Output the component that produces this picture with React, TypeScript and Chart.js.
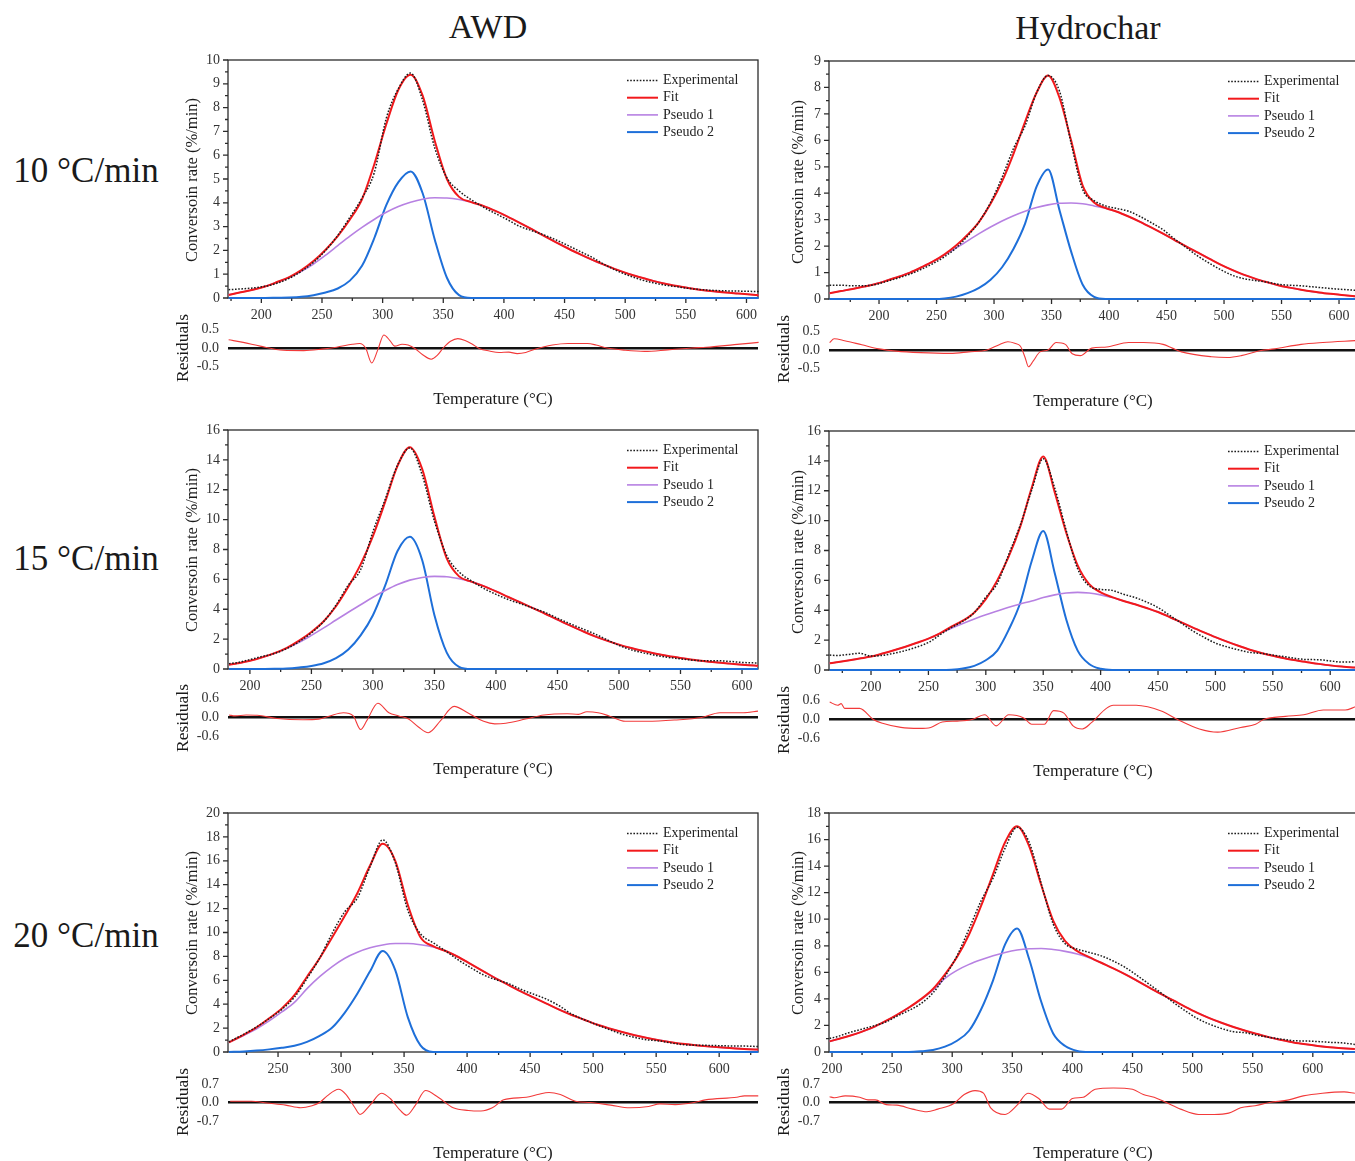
import React, { useEffect, useRef } from 'react';
import { Chart, registerables } from 'chart.js';
Chart.register(...registerables);

const SERIF = "'Liberation Serif', 'Times New Roman', Times, serif";

// ---------------- labels ----------------
const columnTitles = ['AWD', 'Hydrochar'];
const rateLabels = ['10 °C/min', '15 °C/min', '20 °C/min'];
const seriesNames = ['Experimental', 'Fit', 'Pseudo 1', 'Pseudo 2'];
const xAxisTitle = 'Temperature (°C)';
const yAxisTitle = 'Conversoin rate (%/min)';
const resAxisTitle = 'Residuals';

// ---------------- AWD 10 °C/min ----------------
const awd10T = [173,183,193,203,213,223,233,243,253,263,273,283,293,303,313,323,333,343,353,363,373,383,393,403,413,423,433,443,453,463,473,483,493,503,513,523,533,543,553,563,573,583,593,603,610];
const awd10Exp = [0.35,0.38,0.42,0.49,0.62,0.83,1.12,1.5,2.0,2.63,3.39,4.2,5.25,7.55,8.8,9.45,8.3,6.3,5.05,4.5,4.13,3.82,3.55,3.29,3.01,2.83,2.65,2.44,2.2,1.95,1.7,1.4,1.15,0.94,0.77,0.64,0.54,0.47,0.4,0.35,0.32,0.3,0.29,0.28,0.27];
const awd10Fit = [0.13,0.24,0.35,0.48,0.67,0.88,1.17,1.55,2.03,2.6,3.3,4.15,5.6,7.3,8.75,9.38,8.5,6.6,5.0,4.25,4.03,3.87,3.66,3.42,3.16,2.89,2.61,2.34,2.08,1.83,1.6,1.39,1.19,1.01,0.86,0.72,0.6,0.5,0.41,0.34,0.28,0.23,0.19,0.15,0.12];
const awd10P1 = [0.13,0.24,0.35,0.48,0.66,0.86,1.12,1.43,1.8,2.2,2.6,2.97,3.3,3.6,3.84,4.02,4.15,4.21,4.2,4.14,4.03,3.87,3.66,3.42,3.16,2.89,2.61,2.34,2.08,1.83,1.6,1.39,1.19,1.01,0.86,0.72,0.6,0.5,0.41,0.34,0.28,0.23,0.19,0.15,0.12];
const awd10P2 = [0,0,0,0,0.01,0.02,0.05,0.12,0.23,0.4,0.73,1.35,2.5,3.9,4.87,5.32,4.4,2.45,0.85,0.12,0,0,0,0,0,0,0,0,0,0,0,0,0,0,0,0,0,0,0,0,0,0,0,0,0];
const awd10ResT = [173,185,199,218,235,250,262,275,281,286,291,296,301,306,310,316,321,326,333,340,345,350,356,362,368,374,380,388,396,404,411,418,425,440,453,469,476,485,500,516,535,555,567,590,610];
const awd10Res = [0.22,0.15,0.05,-0.06,-0.07,-0.03,0.02,0.1,0.12,0.0,-0.4,-0.05,0.35,0.2,0.05,0.1,0.08,0.0,-0.18,-0.3,-0.2,0.0,0.18,0.25,0.2,0.1,-0.02,-0.08,-0.12,-0.11,-0.15,-0.12,-0.04,0.08,0.12,0.12,0.08,0.0,-0.06,-0.09,-0.05,0.0,0.02,0.09,0.15];

// ---------------- Hydrochar 10 °C/min ----------------
const hyd10T = [157,167,177,187,197,207,217,227,237,247,257,267,277,287,297,307,317,327,337,347,357,367,377,387,397,407,417,427,437,447,457,467,477,487,497,507,517,527,537,547,557,567,577,587,597,607,614];
const hyd10Exp = [0.52,0.52,0.5,0.5,0.55,0.67,0.8,0.94,1.13,1.34,1.6,1.93,2.38,2.92,3.65,4.6,5.7,6.55,7.8,8.45,7.85,5.9,4.15,3.72,3.52,3.42,3.32,3.12,2.88,2.62,2.27,1.95,1.63,1.36,1.11,0.9,0.77,0.7,0.64,0.56,0.52,0.5,0.46,0.42,0.38,0.35,0.33];
const hyd10Fit = [0.22,0.3,0.38,0.47,0.57,0.7,0.84,1.0,1.2,1.42,1.69,2.02,2.43,2.92,3.6,4.45,5.5,6.7,7.8,8.45,7.6,6.0,4.3,3.65,3.44,3.3,3.12,2.92,2.7,2.47,2.23,1.99,1.76,1.53,1.3,1.1,0.92,0.77,0.64,0.52,0.43,0.35,0.28,0.22,0.18,0.13,0.1];
const hyd10P1 = [0.22,0.3,0.38,0.47,0.57,0.7,0.84,1.0,1.2,1.42,1.67,1.93,2.2,2.47,2.72,2.95,3.15,3.32,3.46,3.56,3.62,3.63,3.6,3.52,3.43,3.3,3.12,2.92,2.7,2.47,2.23,1.99,1.76,1.53,1.3,1.1,0.92,0.77,0.64,0.52,0.43,0.35,0.28,0.22,0.18,0.13,0.1];
const hyd10P2 = [0,0,0,0,0,0,0,0,0,0,0.02,0.09,0.22,0.42,0.73,1.2,1.9,2.85,4.25,4.9,3.35,1.8,0.55,0.08,0,0,0,0,0,0,0,0,0,0,0,0,0,0,0,0,0,0,0,0,0,0,0];
const hyd10ResT = [157,161,170,185,200,215,236,262,278,294,305,312,318,323,327,330,334,340,347,354,362,368,375,385,398,417,430,447,455,463,489,503,515,531,544,567,586,614];
const hyd10Res = [0.2,0.3,0.25,0.14,0.03,-0.03,-0.07,-0.09,-0.05,0.0,0.15,0.22,0.18,0.1,-0.2,-0.45,-0.3,-0.05,0.0,0.2,0.15,-0.1,-0.15,0.05,0.08,0.2,0.2,0.15,0.05,-0.05,-0.18,-0.2,-0.15,-0.02,0.03,0.15,0.2,0.25];

// ---------------- AWD 15 °C/min ----------------
const awd15T = [183,190,200,210,220,230,240,250,260,270,280,290,300,310,320,330,340,350,360,370,380,390,400,410,420,430,440,450,460,470,480,490,500,510,520,530,540,550,560,570,580,590,600,610,613];
const awd15Exp = [0.36,0.43,0.63,0.84,1.04,1.37,1.83,2.42,3.18,4.28,5.62,6.65,9.2,11.37,13.65,14.8,13.0,9.9,7.6,6.5,5.9,5.4,5.0,4.65,4.37,4.08,3.78,3.4,3.04,2.7,2.36,1.97,1.58,1.28,1.08,0.91,0.78,0.68,0.59,0.55,0.55,0.51,0.44,0.41,0.41];
const awd15Fit = [0.28,0.38,0.55,0.78,1.06,1.42,1.9,2.48,3.2,4.2,5.5,7.0,8.9,11.2,13.6,14.85,13.4,10.2,7.4,6.2,5.85,5.55,5.2,4.82,4.45,4.08,3.7,3.3,2.92,2.55,2.2,1.9,1.63,1.4,1.2,1.02,0.87,0.74,0.62,0.52,0.43,0.36,0.29,0.23,0.21];
const awd15P1 = [0.28,0.38,0.55,0.78,1.05,1.38,1.78,2.25,2.75,3.28,3.8,4.3,4.8,5.25,5.65,5.95,6.13,6.2,6.18,6.05,5.85,5.55,5.2,4.82,4.45,4.08,3.7,3.3,2.92,2.55,2.2,1.9,1.63,1.4,1.2,1.02,0.87,0.74,0.62,0.52,0.43,0.36,0.29,0.23,0.21];
const awd15P2 = [0,0,0,0,0.01,0.03,0.1,0.2,0.38,0.72,1.3,2.25,3.6,5.6,7.9,8.85,7.3,3.6,1.1,0.15,0,0,0,0,0,0,0,0,0,0,0,0,0,0,0,0,0,0,0,0,0,0,0,0,0];
const awd15ResT = [183,188,197,206,222,243,256,265,276,284,290,295,304,313,321,329,337,345,355,366,377,390,399,408,424,439,458,467,474,483,492,505,523,545,567,582,601,613];
const awd15Res = [0.08,0.05,0.08,0.07,-0.03,-0.07,-0.05,0.05,0.15,0.05,-0.38,-0.1,0.45,0.15,0.05,-0.05,-0.3,-0.48,-0.1,0.35,0.15,-0.12,-0.2,-0.18,-0.05,0.08,0.12,0.1,0.18,0.15,0.05,-0.12,-0.12,-0.08,0.0,0.15,0.15,0.2];

// ---------------- Hydrochar 15 °C/min ----------------
const hyd15T = [164,170,180,190,200,210,220,230,240,250,260,270,280,290,300,310,320,330,340,350,360,370,380,390,400,410,420,430,440,450,460,470,480,490,500,510,520,530,540,550,560,570,580,590,600,610,620,622];
const hyd15Exp = [1.0,0.97,1.04,1.12,0.93,0.98,1.12,1.3,1.54,1.84,2.35,2.84,3.27,3.85,4.87,5.8,7.75,9.7,12.05,14.15,12.18,9.35,6.78,5.63,5.4,5.33,5.07,4.85,4.55,4.18,3.67,3.15,2.63,2.19,1.8,1.55,1.35,1.18,1.11,1.0,0.89,0.77,0.7,0.69,0.61,0.53,0.55,0.56];
const hyd15Fit = [0.45,0.52,0.64,0.77,0.9,1.1,1.32,1.56,1.82,2.1,2.45,2.9,3.3,3.85,4.75,6.0,7.6,9.6,12.2,14.3,11.9,9.2,7.0,5.75,5.2,4.88,4.62,4.4,4.15,3.88,3.55,3.2,2.85,2.52,2.2,1.9,1.62,1.36,1.14,0.95,0.79,0.65,0.52,0.41,0.31,0.23,0.17,0.16];
const hyd15P1 = [0.45,0.52,0.64,0.77,0.9,1.1,1.32,1.56,1.82,2.1,2.45,2.8,3.12,3.42,3.7,3.95,4.2,4.42,4.62,4.85,5.03,5.15,5.2,5.15,5.03,4.85,4.62,4.4,4.15,3.88,3.55,3.2,2.85,2.52,2.2,1.9,1.62,1.36,1.14,0.95,0.79,0.65,0.52,0.41,0.31,0.23,0.17,0.16];
const hyd15P2 = [0,0,0,0,0,0,0,0,0,0,0,0.02,0.1,0.28,0.65,1.3,2.7,4.5,7.3,9.3,6.5,3.4,1.3,0.4,0.08,0,0,0,0,0,0,0,0,0,0,0,0,0,0,0,0,0,0,0,0,0,0,0];
const hyd15ResT = [164,171,174,177,190,202,210,226,242,252,262,275,288,299,309,320,333,340,351,359,368,376,384,392,405,411,431,441,454,467,486,502,522,535,542,561,577,594,613,622];
const hyd15Res = [0.55,0.45,0.5,0.35,0.35,0.0,-0.12,-0.25,-0.28,-0.25,-0.08,-0.05,0.0,0.15,-0.2,0.15,0.05,-0.15,-0.15,0.28,0.2,-0.2,-0.3,-0.1,0.35,0.45,0.45,0.4,0.25,0.0,-0.3,-0.4,-0.25,-0.15,0.0,0.1,0.15,0.3,0.3,0.4];

// ---------------- AWD 20 °C/min ----------------
const awd20T = [211,223,233,243,253,263,273,283,293,303,313,323,333,343,353,363,373,383,393,403,413,423,433,443,453,463,473,483,493,503,513,523,533,543,553,563,573,583,593,603,613,623,631];
const awd20Exp = [0.85,1.5,2.1,2.79,3.57,4.58,6.15,7.85,9.95,11.75,12.9,15.5,17.75,15.85,11.85,9.9,9.15,8.45,7.7,7.05,6.45,6.05,5.72,5.23,4.83,4.42,3.87,3.18,2.7,2.27,1.87,1.49,1.22,1.02,0.92,0.73,0.6,0.57,0.55,0.52,0.5,0.49,0.45];
const awd20Fit = [0.8,1.45,2.07,2.82,3.65,4.75,6.3,7.85,9.6,11.4,13.3,15.6,17.42,16.0,12.3,9.6,8.85,8.45,7.95,7.35,6.75,6.15,5.6,5.05,4.55,4.05,3.55,3.1,2.7,2.3,1.97,1.67,1.4,1.17,0.97,0.8,0.66,0.55,0.45,0.37,0.3,0.24,0.2];
const awd20P1 = [0.8,1.4,1.95,2.6,3.35,4.15,5.3,6.3,7.15,7.85,8.35,8.72,8.96,9.08,9.08,8.98,8.78,8.45,7.95,7.35,6.75,6.15,5.6,5.05,4.55,4.05,3.55,3.1,2.7,2.3,1.97,1.67,1.4,1.17,0.97,0.8,0.66,0.55,0.45,0.37,0.3,0.24,0.2];
const awd20P2 = [0,0.05,0.12,0.22,0.35,0.52,0.85,1.35,2.05,3.3,4.9,6.75,8.45,6.85,2.9,0.55,0,0,0,0,0,0,0,0,0,0,0,0,0,0,0,0,0,0,0,0,0,0,0,0,0,0,0];
const awd20ResT = [212,229,241,256,268,277,283,289,298,304,311,315,323,332,339,347,352,359,367,377,389,401,411,420,429,447,456,465,474,486,498,514,529,544,553,565,580,589,614,620,631];
const awd20Res = [0.05,0.05,-0.02,-0.1,-0.2,-0.12,0.0,0.25,0.5,0.3,-0.2,-0.45,-0.1,0.35,0.15,-0.3,-0.48,-0.1,0.45,0.2,-0.2,-0.3,-0.32,-0.2,0.1,0.2,0.3,0.38,0.3,0.05,0.0,-0.1,-0.2,-0.15,-0.05,-0.08,0.0,0.1,0.2,0.25,0.25];

// ---------------- Hydrochar 20 °C/min ----------------
const hyd20T = [198,204,214,224,234,244,254,264,274,284,294,304,314,324,334,344,354,364,374,384,394,404,414,424,434,444,454,464,474,484,494,504,514,524,534,544,554,564,574,584,594,604,614,624,635];
const hyd20Exp = [1.02,1.15,1.45,1.7,1.95,2.23,2.7,3.13,3.65,4.45,5.7,7.25,9.27,11.38,13.1,15.35,16.92,15.8,12.7,9.65,8.15,7.75,7.5,7.24,6.85,6.37,5.75,5.1,4.43,3.73,3.1,2.52,2.1,1.77,1.53,1.45,1.25,1.1,0.97,0.85,0.83,0.79,0.73,0.69,0.57];
const hyd20Fit = [0.8,0.95,1.2,1.5,1.85,2.3,2.8,3.35,3.98,4.75,5.85,7.15,8.85,11.0,13.4,15.8,17.0,15.5,12.6,9.9,8.35,7.6,7.15,6.72,6.3,5.85,5.35,4.85,4.35,3.88,3.4,2.95,2.55,2.2,1.88,1.6,1.35,1.1,0.9,0.72,0.58,0.46,0.36,0.29,0.22];
const hyd20P1 = [0.8,0.95,1.2,1.5,1.85,2.3,2.8,3.35,3.95,4.65,5.55,6.15,6.6,6.95,7.25,7.5,7.68,7.78,7.8,7.72,7.58,7.38,7.1,6.72,6.3,5.85,5.35,4.85,4.35,3.88,3.4,2.95,2.55,2.2,1.88,1.6,1.35,1.1,0.9,0.72,0.58,0.46,0.36,0.29,0.22];
const hyd20P2 = [0,0,0,0,0,0,0,0,0.05,0.15,0.4,0.85,1.6,3.2,5.4,8.1,9.3,7.0,3.8,1.4,0.45,0.08,0,0,0,0,0,0,0,0,0,0,0,0,0,0,0,0,0,0,0,0,0,0,0];
const hyd20ResT = [198,202,211,223,230,236,245,254,267,279,288,301,310,319,326,332,344,354,363,372,381,391,400,409,419,434,450,459,468,478,490,505,518,530,540,552,564,580,592,608,626,635];
const hyd20Res = [0.22,0.18,0.25,0.2,0.1,0.1,-0.08,-0.1,-0.25,-0.35,-0.25,-0.05,0.3,0.45,0.35,-0.2,-0.45,-0.1,0.35,0.15,-0.25,-0.25,0.15,0.2,0.5,0.55,0.5,0.3,0.2,0.0,-0.25,-0.45,-0.45,-0.4,-0.2,-0.12,0.0,0.1,0.25,0.35,0.4,0.35];

// ---------------- panel layout ----------------
interface PanelDef {
  T: number[]; exp: number[]; fit: number[]; p1: number[]; p2: number[];
  resT: number[]; res: number[];
  xMin: number; xMax: number; yMax: number; yStep: number; resTick: number; resRange: number;
  left: number; right: number; top: number; bottom: number;
  resZero: number; resScale: number;
  xTitle: [number, number]; yTitle: [number, number]; rTitle: [number, number];
}

const AWD_L = 228, AWD_R = 758, HYD_L = 829, HYD_R = 1358;

const panels: PanelDef[] = [
  { T: awd10T, exp: awd10Exp, fit: awd10Fit, p1: awd10P1, p2: awd10P2, resT: awd10ResT, res: awd10Res,
    xMin: 172.5, xMax: 609.5, yMax: 10, yStep: 1, resTick: 0.5, resRange: 0.75,
    left: AWD_L, right: AWD_R, top: 60, bottom: 298, resZero: 348, resScale: 37,
    xTitle: [493, 398], yTitle: [192, 180], rTitle: [183, 348] },
  { T: hyd10T, exp: hyd10Exp, fit: hyd10Fit, p1: hyd10P1, p2: hyd10P2, resT: hyd10ResT, res: hyd10Res,
    xMin: 156.5, xMax: 616.5, yMax: 9, yStep: 1, resTick: 0.5, resRange: 0.75,
    left: HYD_L, right: HYD_R, top: 61, bottom: 299, resZero: 350, resScale: 37,
    xTitle: [1093, 400], yTitle: [798, 182], rTitle: [784, 349] },
  { T: awd15T, exp: awd15Exp, fit: awd15Fit, p1: awd15P1, p2: awd15P2, resT: awd15ResT, res: awd15Res,
    xMin: 182.2, xMax: 613, yMax: 16, yStep: 2, resTick: 0.6, resRange: 0.9,
    left: AWD_L, right: AWD_R, top: 430, bottom: 669, resZero: 718, resScale: 31.7,
    xTitle: [493, 768], yTitle: [192, 550], rTitle: [183, 718] },
  { T: hyd15T, exp: hyd15Exp, fit: hyd15Fit, p1: hyd15P1, p2: hyd15P2, resT: hyd15ResT, res: hyd15Res,
    xMin: 163.4, xMax: 624.2, yMax: 16, yStep: 2, resTick: 0.6, resRange: 0.9,
    left: HYD_L, right: HYD_R, top: 431, bottom: 670, resZero: 720, resScale: 31.7,
    xTitle: [1093, 770], yTitle: [798, 552], rTitle: [784, 720] },
  { T: awd20T, exp: awd20Exp, fit: awd20Fit, p1: awd20P1, p2: awd20P2, resT: awd20ResT, res: awd20Res,
    xMin: 210.3, xMax: 630.8, yMax: 20, yStep: 2, resTick: 0.7, resRange: 1.0,
    left: AWD_L, right: AWD_R, top: 813, bottom: 1052, resZero: 1102, resScale: 26.4,
    xTitle: [493, 1152], yTitle: [192, 933], rTitle: [183, 1102] },
  { T: hyd20T, exp: hyd20Exp, fit: hyd20Fit, p1: hyd20P1, p2: hyd20P2, resT: hyd20ResT, res: hyd20Res,
    xMin: 197.5, xMax: 637.6, yMax: 18, yStep: 2, resTick: 0.7, resRange: 1.0,
    left: HYD_L, right: HYD_R, top: 813, bottom: 1052, resZero: 1102, resScale: 26.4,
    xTitle: [1093, 1152], yTitle: [798, 933], rTitle: [784, 1102] },
];

const seriesStyles = [
  { color: '#1c1c1c', width: 1.5, dash: [1.6, 1.6] },
  { color: '#f2191c', width: 2, dash: [] as number[] },
  { color: '#b781e2', width: 1.6, dash: [] as number[] },
  { color: '#1e6fd9', width: 2, dash: [] as number[] },
];

// gutters around each plot area; top/bottom are larger than Chart.js label padding
const GUT_L = 60, GUT_T = 24, GUT_R = 10, GUT_B = 30;
const RES_T = 24, RES_B = 24;

const framePlugin = {
  id: 'frameTicks',
  beforeDatasetsDraw(chart: any) {
    const o = chart.options.plugins.frameTicks;
    if (!o || !o.enabled) return;
    const { ctx, chartArea: a, scales } = chart;
    ctx.save();
    ctx.strokeStyle = '#2b2b2b';
    ctx.lineWidth = 1.3;
    ctx.strokeRect(a.left, a.top, a.right - a.left, a.bottom - a.top);
    ctx.beginPath();
    const ys = scales.y;
    const half = o.yStep / 2;
    for (let k = 0; k * half <= ys.max + 1e-9; k++) {
      const py = ys.getPixelForValue(k * half);
      const len = k % 2 === 0 ? 5 : 3;
      ctx.moveTo(a.left - len, py);
      ctx.lineTo(a.left, py);
    }
    const xs = scales.x;
    for (let v = Math.ceil(xs.min / 25) * 25; v <= xs.max; v += 25) {
      const px = xs.getPixelForValue(v);
      const len = v % 50 === 0 ? 5 : 3;
      ctx.moveTo(px, a.bottom);
      ctx.lineTo(px, a.bottom + len);
    }
    ctx.stroke();
    ctx.restore();
  },
  afterDatasetsDraw(chart: any) {
    const o = chart.options.plugins.frameTicks;
    if (!o || !o.enabled) return;
    const { ctx, chartArea: a } = chart;
    chart.data.datasets.forEach((ds: any, i: number) => {
      const yy = a.top + 20.5 + i * 17.2;
      ctx.save();
      ctx.strokeStyle = ds.borderColor;
      ctx.lineWidth = ds.borderWidth;
      ctx.setLineDash(ds.borderDash || []);
      ctx.beginPath();
      ctx.moveTo(a.left + 399, yy);
      ctx.lineTo(a.left + 430, yy);
      ctx.stroke();
      ctx.setLineDash([]);
      ctx.fillStyle = '#222';
      ctx.font = `14px ${SERIF}`;
      ctx.textBaseline = 'middle';
      ctx.textAlign = 'left';
      ctx.fillText(ds.label, a.left + 435, yy);
      ctx.restore();
    });
  },
};

const pts = (T: number[], V: number[]) => T.map((t, i) => ({ x: t, y: V[i] }));

const tickFont = { family: SERIF, size: 14 };

function PanelView({ p }: { p: PanelDef }) {
  const mainRef = useRef<HTMLCanvasElement>(null);
  const resRef = useRef<HTMLCanvasElement>(null);

  const mainW = GUT_L + (p.right - p.left) + GUT_R;
  const mainH = GUT_T + (p.bottom - p.top) + GUT_B;
  const resTop = Math.round(p.resZero - p.resRange * p.resScale);
  const resH = Math.round(RES_T + 2 * p.resRange * p.resScale + RES_B);

  useEffect(() => {
    const seriesData = [p.exp, p.fit, p.p1, p.p2];
    const main = new Chart(mainRef.current as HTMLCanvasElement, {
      type: 'line',
      data: {
        datasets: seriesNames.map((name, i) => ({
          label: name,
          data: pts(p.T, seriesData[i]),
          borderColor: seriesStyles[i].color,
          borderWidth: seriesStyles[i].width,
          borderDash: seriesStyles[i].dash,
          pointRadius: 0,
          fill: false,
          cubicInterpolationMode: 'monotone',
          clip: 4,
        })),
      },
      options: {
        animation: false,
        responsive: false,
        maintainAspectRatio: false,
        events: [],
        layout: { autoPadding: false, padding: { left: 0, top: GUT_T, right: GUT_R, bottom: 0 } },
        plugins: {
          legend: { display: false },
          tooltip: { enabled: false },
          frameTicks: { enabled: true, yStep: p.yStep },
        } as any,
        scales: {
          x: {
            type: 'linear',
            min: p.xMin,
            max: p.xMax,
            border: { display: false },
            grid: { display: false, drawTicks: false },
            ticks: { font: tickFont, color: '#333', padding: 9, maxRotation: 0, autoSkip: false,
              callback: (v: any) => String(v) },
            afterBuildTicks: (s: any) => {
              const t = [];
              for (let v = Math.ceil(p.xMin / 50) * 50; v <= p.xMax; v += 50) t.push({ value: v });
              s.ticks = t;
            },
            afterFit: (s: any) => { s.height = GUT_B; },
          },
          y: {
            type: 'linear',
            min: 0,
            max: p.yMax,
            border: { display: false },
            grid: { display: false, drawTicks: false },
            ticks: { font: tickFont, color: '#333', padding: 8, autoSkip: false,
              callback: (v: any) => String(v) },
            afterBuildTicks: (s: any) => {
              const t = [];
              for (let k = 0; k * p.yStep <= p.yMax + 1e-9; k++) t.push({ value: k * p.yStep });
              s.ticks = t;
            },
            afterFit: (s: any) => { s.width = GUT_L; },
          },
        },
      },
      plugins: [framePlugin],
    } as any);

    const resChart = new Chart(resRef.current as HTMLCanvasElement, {
      type: 'line',
      data: {
        datasets: [{
          label: 'Residuals',
          data: pts(p.resT, p.res),
          borderColor: '#f23a3a',
          borderWidth: 1.1,
          pointRadius: 0,
          fill: false,
          cubicInterpolationMode: 'monotone',
          clip: 4,
        }],
      },
      options: {
        animation: false,
        responsive: false,
        maintainAspectRatio: false,
        events: [],
        layout: { autoPadding: false, padding: { left: 0, top: RES_T, right: GUT_R, bottom: RES_B } },
        plugins: { legend: { display: false }, tooltip: { enabled: false } },
        scales: {
          x: { type: 'linear', min: p.xMin, max: p.xMax, display: false },
          y: {
            type: 'linear',
            min: -p.resRange,
            max: p.resRange,
            border: { display: false },
            grid: {
              drawTicks: false,
              color: (c: any) => (c.tick && Math.abs(c.tick.value) < 1e-9 ? '#111' : 'rgba(0,0,0,0)'),
              lineWidth: (c: any) => (c.tick && Math.abs(c.tick.value) < 1e-9 ? 2.4 : 0),
            },
            ticks: { font: tickFont, color: '#333', padding: 9, autoSkip: false,
              callback: (v: any) => Number(v).toFixed(1) },
            afterBuildTicks: (s: any) => {
              s.ticks = [{ value: -p.resTick }, { value: 0 }, { value: p.resTick }];
            },
            afterFit: (s: any) => { s.width = GUT_L; },
          },
        },
      },
    } as any);

    return () => { main.destroy(); resChart.destroy(); };
  }, []);

  return (
    <>
      <canvas ref={resRef} width={mainW} height={resH}
        style={{ position: 'absolute', left: p.left - GUT_L, top: resTop - RES_T, width: mainW, height: resH }} />
      <canvas ref={mainRef} width={mainW} height={mainH}
        style={{ position: 'absolute', left: p.left - GUT_L, top: p.top - GUT_T, width: mainW, height: mainH }} />
      <Txt x={p.xTitle[0]} y={p.xTitle[1]} size={17}>{xAxisTitle}</Txt>
      <Txt x={p.yTitle[0]} y={p.yTitle[1]} size={16.5} rot>{yAxisTitle}</Txt>
      <Txt x={p.rTitle[0]} y={p.rTitle[1]} size={17.5} rot>{resAxisTitle}</Txt>
    </>
  );
}

function Txt({ x, y, size, rot, children }: { x: number; y: number; size: number; rot?: boolean; children: any }) {
  return (
    <div style={{
      position: 'absolute', left: x, top: y,
      transform: `translate(-50%, -50%)${rot ? ' rotate(-90deg)' : ''}`,
      fontSize: size, lineHeight: 1, whiteSpace: 'nowrap', color: '#1a1a1a', fontFamily: SERIF,
    }}>{children}</div>
  );
}

export default function App() {
  return (
    <div style={{ position: 'absolute', left: 0, top: 0, width: 1355, height: 1161, overflow: 'hidden', background: '#fff', fontFamily: SERIF }}>
      <Txt x={488} y={27} size={34}>{columnTitles[0]}</Txt>
      <Txt x={1088} y={28} size={34}>{columnTitles[1]}</Txt>
      <Txt x={86} y={170} size={35}>{rateLabels[0]}</Txt>
      <Txt x={86} y={558} size={35}>{rateLabels[1]}</Txt>
      <Txt x={86} y={935} size={35}>{rateLabels[2]}</Txt>
      {panels.map((p, i) => <PanelView key={i} p={p} />)}
    </div>
  );
}
